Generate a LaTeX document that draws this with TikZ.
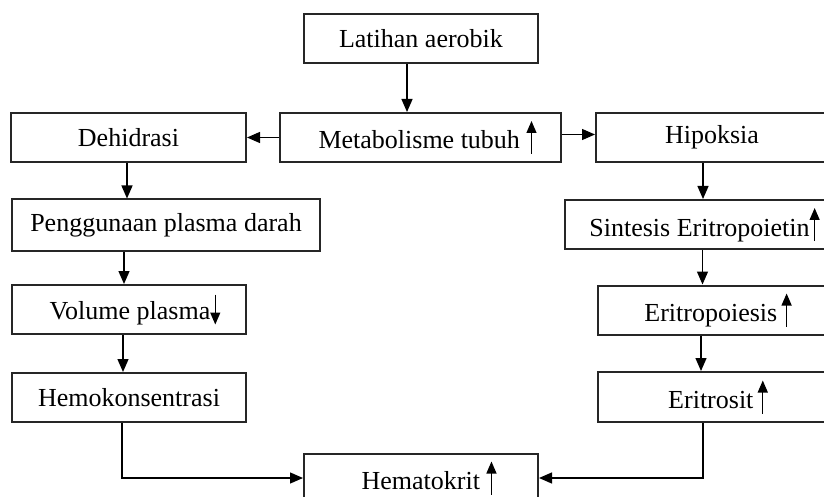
\documentclass[tikz,border=0pt]{standalone}
\usepackage{fontspec}
\setmainfont{Liberation Serif}
\usetikzlibrary{arrows.meta}
\newcommand\myupar{\tikz[baseline=0pt]\draw[line width=1.2pt,-{Triangle[length=12pt,width=10pt]}](0pt,-5pt)--(0pt,28pt);}
\newcommand\mydownar{\tikz[baseline=0pt]\draw[line width=1.2pt,-{Triangle[length=12pt,width=10pt]}](0pt,25pt)--(0pt,-5pt);}
\begin{document}
\begin{tikzpicture}[x=1pt,y=-1pt,
  boxnode/.style={draw=black!85,line width=2pt,rectangle,inner sep=0pt,
    font=\fontsize{26}{30}\selectfont,minimum height=49pt},
  conn/.style={line width=1.3pt,-{Triangle[length=13pt,width=11pt]}}]
\useasboundingbox (0,0) rectangle (824,497);
\node[boxnode,minimum width=234pt] (lat) at (421,38.5) {Latihan aerobik};
\node[boxnode,minimum width=281pt] (met) at (420.5,137.5) {\hspace{14pt}Metabolisme tubuh \myupar};
\node[boxnode,minimum width=235pt] (deh) at (128.5,137.5) {Dehidrasi};
\node[boxnode,minimum width=232pt] (hip) at (712,137.5) {Hipoksia};
\node[boxnode,minimum width=308pt,minimum height=51pt] (pen) at (166,225) {Penggunaan plasma darah};
\node[boxnode,minimum width=277pt] (sin) at (703.5,224.5) {\hspace{2pt}Sintesis Eritropoietin\myupar};
\node[boxnode,minimum width=234pt] (vol) at (129,309.5) {\hspace{12pt}Volume plasma\mydownar};
\node[boxnode,minimum width=230pt] (ep) at (713,310) {\hspace{10pt}Eritropoiesis\,\myupar};
\node[boxnode,minimum width=234pt] (hem) at (129,397.5) {Hemokonsentrasi};
\node[boxnode,minimum width=230pt,minimum height=50pt] (es) at (713,397) {\hspace{10pt}Eritrosit\,\myupar};
\node[boxnode,minimum width=234pt,minimum height=48pt] (hct) at (421,478) {\hspace{16pt}Hematokrit \myupar};
\coordinate (hemturn) at (122,478);
\coordinate (esturn) at (703,478);
% connectors
\draw[conn] ([xshift=-14pt]lat.south) -- ([xshift=-14pt]lat.south |- met.north);
\draw[conn] (met.west) -- (deh.east);
\draw[conn] ([yshift=3pt]met.east) -- ([yshift=3pt]hip.west);
\draw[conn] ([xshift=-1.5pt]deh.south) -- ([xshift=-1.5pt]deh.south |- pen.north);
\draw[conn] ([xshift=-42pt]pen.south) -- ([xshift=-42pt]pen.south |- vol.north);
\draw[conn] ([xshift=-6pt]vol.south) -- ([xshift=-6pt]vol.south |- hem.north);
\draw[conn] ([xshift=-9pt]hip.south) -- ([xshift=-9pt]hip.south |- sin.north);
\draw[conn] ([xshift=-1pt]sin.south) -- ([xshift=-1pt]sin.south |- ep.north);
\draw[conn] ([xshift=-12pt]ep.south) -- ([xshift=-12pt]ep.south |- es.north);
\draw[conn] (hem.south -| hemturn) -- (hemturn) -- (hct.west);
\draw[conn] (es.south -| esturn) -- (esturn) -- (hct.east);
\end{tikzpicture}
\end{document}
